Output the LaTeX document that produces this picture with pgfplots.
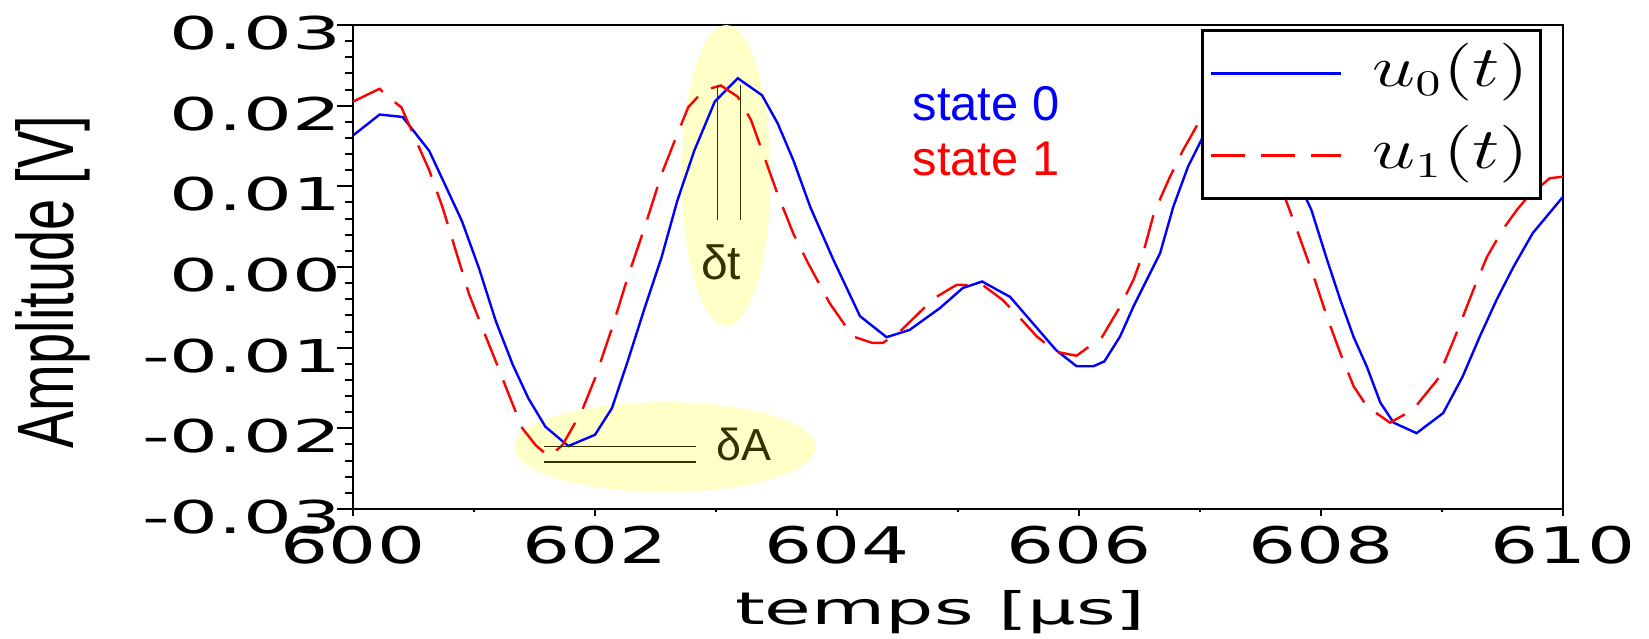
\documentclass[border=0pt]{standalone}
\usepackage{fontspec}
\setmainfont{Liberation Sans}
\usepackage{graphicx}
\usepackage{pgfplots}
\pgfplotsset{compat=1.18}

\newfontfamily\ytickfont[FakeStretch=1.7]{DejaVu Sans}
\newfontfamily\xtickfont[FakeStretch=1.5]{DejaVu Sans}
\newfontfamily\xlabfont[FakeStretch=1.7]{DejaVu Sans}
\newfontfamily\ylabfont[FakeStretch=0.7]{Liberation Sans}

\definecolor{hl}{RGB}{255,255,200}
\definecolor{olivetxt}{RGB}{51,51,0}
\definecolor{sig0}{RGB}{0,0,255}
\definecolor{sig1}{RGB}{255,0,0}

\begin{document}
\begin{tikzpicture}
% main axis: curves, y ticks, labels, legend
\begin{axis}[
    scale only axis,
    width=302.5pt, height=121pt,
    at={(0,0)}, anchor=south west,
    xmin=600, xmax=610, ymin=-0.03, ymax=0.03,
    xtick=\empty,
    ytick={-0.03,-0.02,-0.01,0,0.01,0.02,0.03},
    yticklabels={-0.03,-0.02,-0.01,0.00,0.01,0.02,0.03},
    scaled y ticks=false,
    minor y tick num=4,
    ytick pos=left, tick align=outside,
    major tick length=3.9pt, minor tick length=2pt,
    tick style={black, line width=0.5pt},
    axis line style={line width=0.6pt},
    yticklabel style={font=\ytickfont\fontsize{11.3}{12}\selectfont,
        anchor=east, inner sep=0pt, xshift=1.1pt, yshift=-2pt},
    ylabel={Amplitude [V]},
    ylabel style={font=\ylabfont\fontsize{20}{22}\selectfont,
        at={(axis description cs:-0.248,0.469)}, anchor=center},
    xlabel={temps [µs]},
    xlabel style={font=\xlabfont\fontsize{11.2}{12}\selectfont,
        at={(axis description cs:0.4855,-0.213)}, anchor=center},
    legend style={at={(axis description cs:0.7008,0.9917)}, anchor=north west,
        draw=black, line width=0.75pt, fill=white,
        inner xsep=1.75pt, inner ysep=3pt, row sep=5pt, column sep=6.7pt,
        nodes={inner sep=1pt, text height=10pt, text depth=3.5pt},
        font=\fontsize{13.5}{14}\selectfont},
    legend cell align=left,
    legend image code/.code={\draw[#1] (0pt,0pt) -- (32.5pt,0pt);},
]
% highlight ellipses behind the curves
\fill[hl] (axis cs:603.084,0.01135) ellipse [x radius=11.1pt, y radius=37.6pt];
\fill[hl] (axis cs:602.579,-0.02233) ellipse [x radius=37.7pt, y radius=11.25pt];

\addplot[sig0, line width=0.6pt] coordinates {
(600.00,0.0163) (600.22,0.0189) (600.41,0.0186) (600.52,0.0165) (600.63,0.0144)
(600.77,0.0099) (600.90,0.0057) (601.04,-0.0001) (601.18,-0.0067) (601.32,-0.0121)
(601.45,-0.0163) (601.59,-0.0198) (601.78,-0.0222) (602.00,-0.0208) (602.14,-0.0175)
(602.27,-0.0117) (602.41,-0.0051) (602.55,0.0012) (602.68,0.0082) (602.82,0.0144)
(602.99,0.0205) (603.18,0.0234) (603.38,0.0213) (603.51,0.0178) (603.64,0.0132)
(603.78,0.0074) (603.97,0.0009) (604.19,-0.0061) (604.41,-0.0087) (604.60,-0.0078)
(604.85,-0.0051) (605.04,-0.0026) (605.20,-0.0018) (605.32,-0.0028) (605.43,-0.0037)
(605.62,-0.0070) (605.81,-0.0103) (605.98,-0.0123) (606.12,-0.0123) (606.21,-0.0117)
(606.34,-0.0086) (606.45,-0.0049) (606.56,-0.0016) (606.67,0.0017) (606.78,0.0075)
(606.90,0.0124) (607.01,0.0157) (607.15,0.0205) (607.35,0.0232) (607.55,0.0200)
(607.72,0.0130) (607.87,0.0087) (607.92,0.0071) (608.05,0.0009) (608.16,-0.0041)
(608.27,-0.0087) (608.38,-0.0124) (608.49,-0.0168) (608.60,-0.0193) (608.79,-0.0206)
(609.01,-0.0181) (609.17,-0.0136) (609.31,-0.0087) (609.45,-0.0041) (609.59,0.0000)
(609.75,0.0042) (610.00,0.0087)
};
\addlegendentry{\scalebox{1.34}[1]{$u_0(t)$}\hspace{5.5pt}}

\addplot[sig1, line width=0.6pt, dash pattern=on 8.5pt off 4pt] coordinates {
(600.00,0.0205) (600.22,0.0221) (600.27,0.0213) (600.40,0.0198) (600.52,0.0157)
(600.63,0.0120) (600.74,0.0074) (600.85,0.0020) (600.96,-0.0034) (601.07,-0.0076)
(601.18,-0.0117) (601.29,-0.0159) (601.40,-0.0200) (601.51,-0.0221) (601.62,-0.0235)
(601.73,-0.0221) (601.89,-0.0179) (602.00,-0.0138) (602.14,-0.0076) (602.27,-0.0013)
(602.41,0.0049) (602.55,0.0115) (602.66,0.0157) (602.77,0.0198) (602.90,0.0219)
(603.04,0.0225) (603.18,0.0211) (603.29,0.0182) (603.40,0.0136) (603.51,0.0090)
(603.64,0.0041) (603.76,0.0005) (603.94,-0.0045) (604.13,-0.0086) (604.29,-0.0094)
(604.38,-0.0094) (604.52,-0.0080) (604.80,-0.0039) (604.99,-0.0022) (605.21,-0.0023)
(605.37,-0.0041) (605.53,-0.0066) (605.65,-0.0086) (605.81,-0.0105) (605.98,-0.0110)
(606.19,-0.0087) (606.34,-0.0049) (606.45,-0.0016) (606.53,0.0017) (606.62,0.0067)
(606.74,0.0108) (606.86,0.0145) (606.94,0.0166) (607.10,0.0210) (607.25,0.0225)
(607.45,0.0190) (607.60,0.0125) (607.70,0.0087) (607.83,0.0034) (607.94,-0.0012)
(608.05,-0.0062) (608.16,-0.0107) (608.27,-0.0148) (608.38,-0.0173) (608.57,-0.0193)
(608.76,-0.0177) (608.96,-0.0140) (609.12,-0.0082) (609.26,-0.0028) (609.37,0.0012)
(609.50,0.0046) (609.62,0.0071) (609.71,0.0087) (609.89,0.0110) (610.00,0.0112)
};
\addlegendentry{\scalebox{1.34}[1]{$u_1(t)$}\hspace{5.5pt}}

% delta markers
\draw[olivetxt, line width=0.35pt] (axis cs:603.014,0.00584) -- (axis cs:603.014,0.02257);
\draw[olivetxt, line width=0.35pt] (axis cs:603.204,0.00584) -- (axis cs:603.204,0.02257);
\draw[olivetxt, line width=0.35pt] (axis cs:601.581,-0.02226) -- (axis cs:602.832,-0.02226);
\draw[olivetxt, line width=0.35pt] (axis cs:601.581,-0.02419) -- (axis cs:602.832,-0.02419);
\node[anchor=base west, inner sep=0pt, text=olivetxt, font=\fontsize{12}{12}\selectfont]
    at (axis cs:602.87,-0.0016) {δt};
\node[anchor=base west, inner sep=0pt, text=olivetxt, font=\fontsize{11.2}{11}\selectfont]
    at (axis cs:602.998,-0.024) {δA};
\node[anchor=base west, inner sep=0pt, text=sig0, font=\fontsize{12.2}{12}\selectfont]
    at (axis cs:604.62,0.0181) {state 0};
\node[anchor=base west, inner sep=0pt, text=sig1, font=\fontsize{12.2}{12}\selectfont]
    at (axis cs:604.62,0.0114) {state 1};
\end{axis}

% overlay axis: only the x ticks (shorter than the y ticks)
\begin{axis}[
    scale only axis,
    width=302.5pt, height=121pt,
    at={(0,0)}, anchor=south west,
    xmin=600, xmax=610, ymin=-0.03, ymax=0.03,
    axis x line*=bottom, axis y line=none,
    xtick={600,602,604,606,608,610},
    xticklabels={600,602,604,606,608,610},
    scaled x ticks=false,
    minor x tick num=1,
    tick align=outside,
    major tick length=1.75pt, minor tick length=0.75pt,
    tick style={black, line width=0.5pt},
    axis line style={line width=0.6pt},
    xticklabel style={font=\xtickfont\fontsize{12.6}{13}\selectfont,
        inner sep=0pt, yshift=-2.25pt},
]
\end{axis}

\pgfresetboundingbox
\path (-88.25pt,-32.5pt) rectangle (324pt,127.25pt);
\end{tikzpicture}
\end{document}
